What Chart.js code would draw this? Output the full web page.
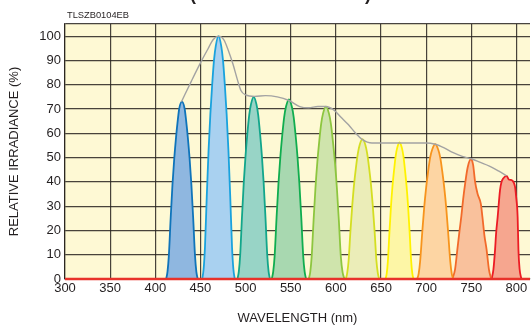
<!DOCTYPE html>
<html>
<head>
<meta charset="utf-8">
<script src="https://cdn.jsdelivr.net/npm/chart.js@4"></script>
<style>
    html, body { margin: 0; padding: 0; background: #ffffff; }
    #wrap { width: 532px; height: 327px; position: relative; }
</style>
</head>
<body>
<div id="wrap"><canvas id="grafica"></canvas></div>
<script>
// wavelength (nm) / relative irradiance (%)
const peak1X = [412, 413.5, 415, 417, 419, 421, 423, 425, 426.5, 429.5, 432.5, 434, 436, 438, 440, 442, 444, 445.5, 447];
const peak1Y = [0, 2.9, 9.5, 24.8, 38.7, 49.6, 58.4, 65.7, 70.1, 73, 70.1, 65.7, 58.4, 49.6, 38.7, 24.8, 9.5, 2.9, 0];
const peak2X = [452, 453.5, 455, 457, 459, 461, 463, 465, 467, 470, 473, 475, 477, 479, 481, 483, 485, 486.5, 488];
const peak2Y = [0, 4, 13, 34, 53, 68, 80, 90, 96, 100, 96, 90, 80, 68, 53, 34, 13, 4, 0];
const peak3X = [491, 492.5, 494, 496, 498, 500, 502, 504, 506, 509, 512, 514, 516, 518, 520, 522, 524, 525.5, 527];
const peak3Y = [0, 3, 9.8, 25.5, 39.8, 51, 60, 67.5, 72, 75, 72, 67.5, 60, 51, 39.8, 25.5, 9.8, 3, 0];
const peak4X = [529, 530.6, 532.2, 534.3, 536.4, 538.5, 540.6, 542.7, 544.8, 548, 551.2, 553.3, 555.4, 557.5, 559.6, 561.7, 563.8, 565.4, 567];
const peak4Y = [0, 3, 9.6, 25.2, 39.2, 50.3, 59.2, 66.6, 71, 74, 71, 66.6, 59.2, 50.3, 39.2, 25.2, 9.6, 3, 0];
const peak5X = [570, 571.6, 573.2, 575.3, 577.4, 579.5, 581.6, 583.7, 585.8, 589, 592.3, 594.5, 596.7, 598.9, 601.1, 603.3, 605.5, 607.4, 609.5];
const peak5Y = [0, 2.8, 9.2, 24.1, 37.6, 48.3, 56.8, 63.9, 68.2, 71, 68.2, 63.9, 56.8, 48.3, 37.6, 24.1, 9.2, 2.8, 0];
const peak6X = [611, 612.5, 614.1, 616.1, 618.2, 620.2, 622.3, 624.4, 626.4, 629.5, 632.6, 634.6, 636.7, 638.8, 640.8, 642.9, 644.9, 646.5, 648];
const peak6Y = [0, 2.3, 7.5, 19.6, 30.5, 39.2, 46.1, 51.8, 55.3, 57.6, 55.3, 51.8, 46.1, 39.2, 30.5, 19.6, 7.5, 2.3, 0];
const peak7X = [655, 656.3, 657.6, 659.3, 661, 662.7, 664.5, 666.2, 667.9, 670.5, 673.1, 674.8, 676.5, 678.3, 680, 681.7, 683.4, 684.7, 686];
const peak7Y = [0, 2.2, 7.3, 19.1, 29.8, 38.2, 45, 50.6, 54, 56.2, 54, 50.6, 45, 38.2, 29.8, 19.1, 7.3, 2.2, 0];
const peak8X = [690, 691.7, 693.3, 695.6, 697.8, 700, 702.2, 704.4, 706.7, 710, 713.3, 715.6, 717.8, 720, 722.2, 724.4, 726.7, 728.3, 730];
const peak8Y = [0, 2.2, 7.2, 18.9, 29.4, 37.7, 44.4, 50, 53.3, 55.5, 53.3, 50, 44.4, 37.7, 29.4, 18.9, 7.2, 2.2, 0];
const peak9X = [729, 732, 734.5, 737, 739, 741, 743.2, 746, 749.4, 752, 754.2, 757, 760.5, 762.3, 764.5, 767, 769.5, 772];
const peak9Y = [0, 4, 12, 20, 26, 33, 39.4, 46, 49.3, 47, 40, 35, 31, 25.6, 18, 11.9, 4, 0];
const peak10X = [772.5, 774.5, 776.3, 777.5, 779.2, 781.8, 783.5, 785.5, 789, 791.5, 795.5, 798.4, 799.6, 801.3, 802.2, 803.5, 805.5];
const peak10Y = [0, 4, 12, 19, 25.6, 36.6, 40, 41.5, 42.5, 41, 40.5, 38, 34, 25.6, 12, 4, 0];
// grey curve over the peak tops
const envX = [429, 440, 451, 458, 464, 470, 476, 481, 486, 491, 495, 500, 510, 522, 535, 548, 560, 570, 580, 589, 598, 606, 614, 622, 629, 640, 660, 680, 700, 710, 720, 730, 740, 750, 760, 770, 780, 789];
const envY = [73, 81.5, 89.7, 94.5, 98.5, 100, 98.5, 94, 88.5, 82, 77.5, 75.8, 75.2, 75.5, 75, 73.5, 71, 70.5, 71, 71, 69.5, 66.5, 63.5, 60, 57.5, 56, 56, 56, 56, 55.5, 54, 52, 50.5, 49.5, 48, 46.5, 44.5, 42.5];
const baseX = [300, 815];
const baseY = [0, 0];

const xTicks = [300, 350, 400, 450, 500, 550, 600, 650, 700, 750, 800];
const yTicks = [0, 10, 20, 30, 40, 50, 60, 70, 80, 90, 100];

const peaks = [
    [peak1X, peak1Y, '#0f74ba', '#8fb7e0'],
    [peak2X, peak2Y, '#1aa2dd', '#a9d1f0'],
    [peak3X, peak3Y, '#12a68b', '#98d4c6'],
    [peak4X, peak4Y, '#10ad4f', '#a8d8b0'],
    [peak5X, peak5Y, '#8dc63f', '#cfe4ac'],
    [peak6X, peak6Y, '#d4de22', '#ebedb8'],
    [peak7X, peak7Y, '#fff200', '#fdf6a6'],
    [peak8X, peak8Y, '#f7941d', '#fdd5a3'],
    [peak9X, peak9Y, '#f26a2a', '#f9c19c'],
    [peak10X, peak10Y, '#ec1c24', '#f6a68f']
];

const toPts = (xs, ys) => xs.map((x, i) => ({ x: x, y: ys[i] }));

const datasets = [
    {
        data: toPts(baseX, baseY),
        borderColor: '#e8322a',
        borderWidth: 2.5,
        pointRadius: 0,
        clip: 4
    },
    {
        data: toPts(envX, envY),
        borderColor: '#a3a3a3',
        borderWidth: 1.4,
        pointRadius: 0,
        cubicInterpolationMode: 'monotone'
    }
];
peaks.forEach(p => {
    datasets.push({
        data: toPts(p[0], p[1]),
        borderColor: p[2],
        backgroundColor: p[3],
        borderWidth: 1.8,
        pointRadius: 0,
        fill: 'origin',
        cubicInterpolationMode: 'monotone'
    });
});

const fondo = {
    id: 'fondo',
    beforeDraw(chart) {
        const a = chart.chartArea;
        const c = chart.ctx;
        c.save();
        c.fillStyle = '#fef9d4';
        c.fillRect(a.left, a.top, a.right - a.left, a.bottom - a.top);
        c.restore();
    },
    afterDraw(chart) {
        const c = chart.ctx;
        c.save();
        c.fillStyle = '#231f20';
        c.textBaseline = 'middle';
        c.font = '9.3px "Liberation Sans", Arial, sans-serif';
        c.fillText('TLSZB0104EB', 67, 15);
        // title line above, almost entirely cut off by the picture edge
        c.textBaseline = 'alphabetic';
        c.font = 'bold 18px "Liberation Sans", Arial, sans-serif';
        c.fillText('(TYPICAL EXAMPLE)', 190, 0);
        c.restore();
    }
};

const fuente = { family: '"Liberation Sans", Arial, sans-serif', size: 13 };
const gridColor = 'rgba(40, 35, 30, 0.85)';

new Chart(document.getElementById('grafica').getContext('2d'), {
    type: 'line',
    data: { datasets: datasets },
    options: {
        responsive: true,
        maintainAspectRatio: false,
        animation: false,
        events: [],
        layout: { padding: { top: 24, right: 0, left: 0, bottom: 0 } },
        plugins: {
            legend: { display: false },
            tooltip: { enabled: false }
        },
        scales: {
            x: {
                type: 'linear',
                min: 300,
                max: 815,
                afterFit: s => { s.height = 48; },
                afterBuildTicks: s => { s.ticks = xTicks.concat([815]).map(v => ({ value: v })); },
                ticks: {
                    autoSkip: false,
                    maxRotation: 0,
                    padding: 2,
                    color: '#231f20',
                    font: fuente,
                    callback: v => (xTicks.includes(v) ? v : '')
                },
                grid: {
                    color: c => (c.tick && xTicks.includes(c.tick.value) ? gridColor : 'rgba(0,0,0,0)'),
                    lineWidth: 1.2,
                    drawTicks: false
                },
                border: { color: gridColor, width: 1.2 },
                title: {
                    display: true,
                    text: 'WAVELENGTH (nm)',
                    color: '#231f20',
                    font: fuente,
                    padding: { top: 0, bottom: 1 }
                }
            },
            y: {
                min: 0,
                max: 105,
                afterFit: s => { s.width = 65; },
                afterBuildTicks: s => { s.ticks = yTicks.concat([105]).map(v => ({ value: v })); },
                ticks: {
                    padding: 4,
                    color: '#231f20',
                    font: fuente,
                    callback: v => (yTicks.includes(v) ? v : '')
                },
                grid: { color: gridColor, lineWidth: 1.2, drawTicks: false },
                border: { color: gridColor, width: 1.2 },
                title: {
                    display: true,
                    text: 'RELATIVE IRRADIANCE (%)',
                    color: '#231f20',
                    font: fuente,
                    padding: { top: 7, bottom: 0 }
                }
            }
        }
    },
    plugins: [fondo]
});
</script>
</body>
</html>
